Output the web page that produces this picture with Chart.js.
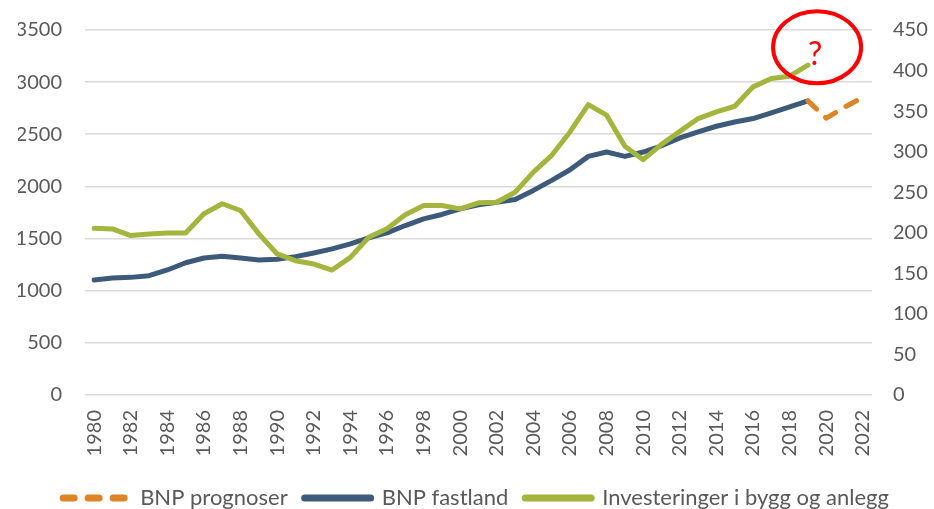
<!DOCTYPE html>
<html>
<head>
<meta charset="utf-8">
<script src="https://cdn.jsdelivr.net/npm/chart.js@4/dist/chart.umd.min.js"></script>
<style>
  html, body { margin: 0; padding: 0; background: #ffffff; }
  #wrap { width: 934px; height: 509px; position: relative; }
</style>
</head>
<body>
<div id="wrap"><canvas id="c" width="934" height="509"></canvas></div>
<script>
const years = [];
for (let y = 1980; y <= 2022; y++) years.push(String(y));

const bnpFastland = [1103, 1122, 1128, 1144, 1199, 1268, 1314, 1330, 1314, 1295,
  1301, 1327, 1362, 1401, 1449, 1507, 1555, 1625, 1689, 1731,
  1785, 1824, 1849, 1875, 1962, 2058, 2160, 2288, 2330, 2288,
  2330, 2390, 2465, 2522, 2577, 2618, 2651, 2705, 2763, 2820,
  null, null, null];

const bnpPrognoser = [null, null, null, null, null, null, null, null, null, null,
  null, null, null, null, null, null, null, null, null, null,
  null, null, null, null, null, null, null, null, null, null,
  null, null, null, null, null, null, null, null, null, 2820,
  2655, 2760, 2855];

const investeringer = [205.6, 204.8, 196.6, 198.6, 199.8, 199.8, 223.4, 235.8, 227.5, 198.6,
  173.9, 165.6, 161.5, 154.1, 169.7, 194.4, 205.0, 222.1, 233.6, 233.6,
  229.5, 237.0, 237.7, 250.0, 274.8, 295.5, 324.3, 358.1, 345.0, 306.6,
  290.1, 309.0, 325.0, 340.8, 349.0, 356.0, 379.9, 390.3, 393.1, 406.7,
  null, null, null];

const leftTicks = { min: 0, max: 3500, step: 500 };
const rightTicks = { min: 0, max: 450, step: 50 };

// annotation: position in (category index, left-axis value)
const annotationPos = [39.5, 3335];
const annotationText = '?';

const seriesNames = ['BNP prognoser', 'BNP fastland', 'Investeringer i bygg og anlegg'];

const colBlue = '#3D5A7A';
const colGreen = '#A3B53C';
const colOrange = '#DC8426';
const tickColor = '#595959';
const gridColor = '#D9D9D9';

const annotationPlugin = {
  id: 'ring',
  afterDatasetsDraw(chart) {
    const ctx = chart.ctx;
    const x = chart.scales.x.getPixelForValue(annotationPos[0]);
    const y = chart.scales.y.getPixelForValue(annotationPos[1]);
    ctx.save();
    ctx.strokeStyle = '#FF0000';
    ctx.lineWidth = 4;
    ctx.beginPath();
    ctx.ellipse(x, y, 44, 36, 0, 0, Math.PI * 2);
    ctx.stroke();
    ctx.fillStyle = '#FF0000';
    ctx.font = '32px Lato';
    ctx.textAlign = 'center';
    ctx.textBaseline = 'middle';
    ctx.fillText(annotationText, x - 2, y + 7);
    ctx.restore();
  }
};

new Chart(document.getElementById('c'), {
  type: 'line',
  data: {
    labels: years,
    datasets: [
      {
        label: seriesNames[0], data: bnpPrognoser, yAxisID: 'y',
        borderColor: colOrange, backgroundColor: colOrange, borderWidth: 5,
        borderDash: [12, 12], borderCapStyle: 'round', borderJoinStyle: 'round',
        pointRadius: 0, tension: 0, order: 1
      },
      {
        label: seriesNames[1], data: bnpFastland, yAxisID: 'y',
        borderColor: colBlue, backgroundColor: colBlue, borderWidth: 5,
        borderCapStyle: 'round', borderJoinStyle: 'round',
        pointRadius: 0, tension: 0, order: 2
      },
      {
        label: seriesNames[2], data: investeringer, yAxisID: 'y1',
        borderColor: colGreen, backgroundColor: colGreen, borderWidth: 5,
        borderCapStyle: 'round', borderJoinStyle: 'round',
        pointRadius: 0, tension: 0, order: 0
      }
    ]
  },
  options: {
    responsive: false,
    animation: false,
    events: [],
    layout: { padding: { top: 30, left: 18, right: 0, bottom: -10 } },
    plugins: {
      tooltip: { enabled: false },
      legend: {
        position: 'bottom',
        labels: {
          font: { family: 'Lato', size: 22 },
          color: tickColor,
          usePointStyle: true,
          pointStyle: 'line',
          pointStyleWidth: 66,
          boxHeight: 22,
          padding: 17,
          sort: (a, b) => a.datasetIndex - b.datasetIndex,
          generateLabels(chart) {
            const items = Chart.defaults.plugins.legend.labels.generateLabels(chart);
            items.forEach(it => {
              it.lineWidth = 7;
              it.pointStyle = 'line';
              it.lineCap = 'round';
              it.lineDash = it.datasetIndex === 0 ? [11, 14] : [];
              it.lineDashOffset = 0;
            });
            return items;
          }
        }
      }
    },
    scales: {
      x: {
        offset: true,
        grid: { display: false, drawTicks: false },
        border: { display: false },
        afterFit(s) { s.height = 75; },
        ticks: {
          autoSkip: false,
          maxRotation: 90, minRotation: 90,
          padding: 15,
          color: tickColor,
          font: { family: 'Lato', size: 20 },
          callback(v, i) { return i % 2 === 0 ? years[i] : ''; }
        }
      },
      y: {
        position: 'left',
        min: leftTicks.min, max: leftTicks.max,
        afterFit(s) { s.width = 67; },
        grid: { color: gridColor, lineWidth: 1.6, drawTicks: true, tickLength: 17, tickColor: 'rgba(0,0,0,0)' },
        border: { display: false },
        ticks: {
          stepSize: leftTicks.step, padding: 6,
          color: tickColor, font: { family: 'Lato', size: 20 },
          callback(v) { return String(v); }
        }
      },
      y1: {
        position: 'right',
        min: rightTicks.min, max: rightTicks.max,
        afterFit(s) { s.width = 62; },
        grid: { drawOnChartArea: false, drawTicks: true, tickLength: 15, tickColor: 'rgba(0,0,0,0)' },
        border: { display: false },
        ticks: {
          stepSize: rightTicks.step, padding: 6,
          color: tickColor, font: { family: 'Lato', size: 20 },
          callback(v) { return String(v); }
        }
      }
    }
  },
  plugins: [annotationPlugin]
});
</script>
</body>
</html>
